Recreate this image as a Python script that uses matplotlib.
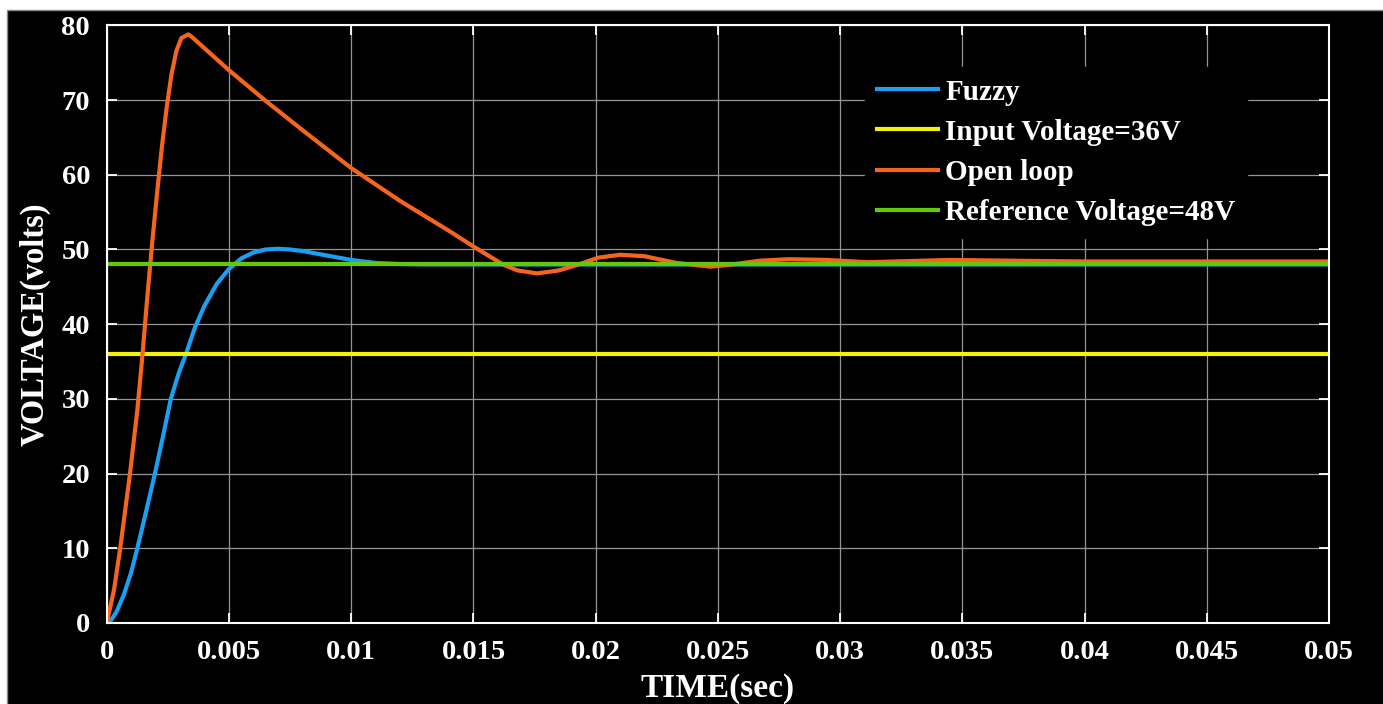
import numpy as np
import matplotlib
matplotlib.use('Agg')
import matplotlib.pyplot as plt
from matplotlib.patches import Rectangle

# Step response data (time in s, voltage in V)
t_open = [0, 0.0003, 0.00055, 0.00095, 0.00125, 0.00145, 0.00165, 0.00185,
          0.00205, 0.00225, 0.00245, 0.00265, 0.00285, 0.00305, 0.00334,
          0.0035, 0.005, 0.0065, 0.008, 0.01, 0.012, 0.014, 0.015, 0.0162,
          0.0168, 0.0176, 0.0185, 0.0193, 0.0201, 0.021, 0.022, 0.0233,
          0.0247, 0.0256, 0.0267, 0.0279, 0.0295, 0.0311, 0.0328, 0.0345,
          0.037, 0.04, 0.045, 0.05]
v_open = [0, 4.5, 10, 20, 28.5, 35.5, 43.3, 50.6, 57.3, 63.6, 69, 73.5, 76.6,
          78.3, 78.8, 78.4, 74.0, 69.9, 66.0, 60.9, 56.5, 52.5, 50.4, 48.0,
          47.2, 46.8, 47.2, 48.0, 48.9, 49.3, 49.1, 48.2, 47.7, 48.0, 48.5,
          48.7, 48.6, 48.3, 48.45, 48.6, 48.5, 48.4, 48.4, 48.4]

t_fuzzy = [0, 0.0001, 0.0004, 0.0007, 0.001, 0.00125, 0.0016, 0.00197, 0.0023,
           0.00262, 0.00295, 0.00324, 0.0036, 0.004, 0.0045, 0.005, 0.0055,
           0.006, 0.0065, 0.007, 0.0075, 0.008, 0.009, 0.01, 0.011, 0.012,
           0.013, 0.05]
v_fuzzy = [0, 0, 1.5, 3.8, 6.8, 10, 14.8, 20, 25, 30, 33.5, 36, 39.5, 42.5,
           45.4, 47.4, 48.8, 49.6, 50.0, 50.1, 50.0, 49.8, 49.2, 48.6, 48.2,
           48.05, 48.0, 48.0]

t_const = [0, 0.05]
v_input = [36, 36]
v_ref = [48, 48]

xticks = [0, 0.005, 0.01, 0.015, 0.02, 0.025, 0.03, 0.035, 0.04, 0.045, 0.05]
xticklabels = ['0', '0.005', '0.01', '0.015', '0.02', '0.025', '0.03',
               '0.035', '0.04', '0.045', '0.05']
yticks = [0, 10, 20, 30, 40, 50, 60, 70, 80]

plt.rcParams['font.family'] = ['Liberation Serif', 'DejaVu Serif']
plt.rcParams['font.weight'] = 'bold'

fig = plt.figure(figsize=(13.83, 7.04), dpi=100, facecolor='white')
# black backdrop, leaving a thin white strip top and left like the scan
fig.patches.append(Rectangle((7 / 1383, -0.01), 1.0, 694 / 704 + 0.01,
                             transform=fig.transFigure, facecolor='black',
                             edgecolor='#8a8a8a', linewidth=1, zorder=-10))

ax = fig.add_axes([0.0772, 0.1151, 0.8838, 0.8488])
ax.set_facecolor('black')

ax.plot(t_fuzzy, v_fuzzy, color='#1aa0f2', lw=3, label='Fuzzy')
ax.plot(t_const, v_input, color='#f2f20a', lw=3, label='Input Voltage=36V')
ax.plot(t_open, v_open, color='#f7641e', lw=3, label='Open loop')
ax.plot(t_const, v_ref, color='#62c80a', lw=3, label='Reference Voltage=48V')

ax.set_xlim(0, 0.05)
ax.set_ylim(0, 80)
ax.set_xticks(xticks)
ax.set_xticklabels(xticklabels)
ax.set_yticks(yticks)

ax.grid(True, color='#959595', lw=0.9)
ax.set_axisbelow(True)
ax.tick_params(colors='white', labelsize=20.5, direction='in', length=7,
               width=1.3, top=True, right=True)
ax.tick_params(axis='x', pad=12)
ax.tick_params(axis='y', pad=12)
for lab in ax.get_xticklabels() + ax.get_yticklabels():
    lab.set_fontweight('bold')
for s in ax.spines.values():
    s.set_color('white')
    s.set_linewidth(1.5)

ax.set_xlabel('TIME(sec)', color='white', fontsize=24, fontweight='bold',
              labelpad=6)
ax.set_ylabel('VOLTAGE(volts)', color='white', fontsize=23.5,
              fontweight='bold', labelpad=8)

leg = ax.legend(loc='upper left', bbox_to_anchor=(0.6085, 0.955), fontsize=21,
                frameon=True, facecolor='black', edgecolor='black',
                framealpha=1, handlelength=2.1, handletextpad=0.25,
                labelspacing=0.45, borderpad=0.4, fancybox=False)
for txt in leg.get_texts():
    txt.set_color('white')
    txt.set_fontweight('bold')

fig.savefig('out.png', dpi=100, facecolor=fig.get_facecolor())
